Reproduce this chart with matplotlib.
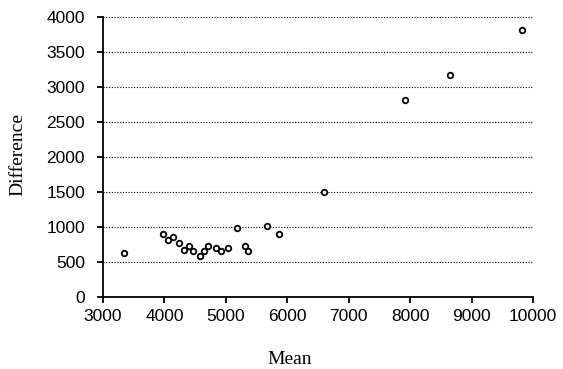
import matplotlib
matplotlib.use('Agg')
import matplotlib.pyplot as plt

plt.rcParams['font.family'] = ['Liberation Sans', 'DejaVu Sans']

# Mean vs. difference for each pair of measurements
mean_vals = [3337, 3980, 4063, 4140, 4233, 4314, 4401, 4466, 4585, 4651,
             4716, 4842, 4928, 5037, 5173, 5310, 5352, 5673, 5857, 6599,
             7909, 8652, 9824]
diff_vals = [626, 897, 803, 846, 769, 660, 717, 654, 579, 654,
             717, 693, 654, 693, 979, 726, 654, 1011, 897, 1489,
             2807, 3164, 3803]

x_ticks = [3000, 4000, 5000, 6000, 7000, 8000, 9000, 10000]
y_ticks = [0, 500, 1000, 1500, 2000, 2500, 3000, 3500, 4000]

fig = plt.figure(figsize=(5.63, 3.69), dpi=100)
ax = fig.add_axes([0.183, 0.196, 0.764, 0.759])

# dotted horizontal guides, skipping the zero line
for y in y_ticks[1:]:
    ax.axhline(y, color='black', linestyle=(0, (1, 1.5)), linewidth=0.8, zorder=1)

ax.plot(mean_vals, diff_vals, linestyle='none', marker='o', markersize=4.0,
        markerfacecolor='white', markeredgecolor='black', markeredgewidth=1.3, zorder=3)

ax.set_xlim(3000, 10000)
ax.set_ylim(0, 4000)
ax.set_xticks(x_ticks)
ax.set_yticks(y_ticks)

for side in ['top', 'right']:
    ax.spines[side].set_visible(False)
for side in ['left', 'bottom']:
    ax.spines[side].set_linewidth(1.3)

ax.tick_params(direction='out', length=4, width=1.3, labelsize=12.5)
ax.tick_params(axis='x', pad=5)
ax.tick_params(axis='y', pad=9)

ax.set_xlabel('Mean', family='Liberation Serif', fontsize=14, va='center')
ax.set_ylabel('Difference', family='Liberation Serif', fontsize=14, va='center')
ax.xaxis.set_label_coords(0.435, -0.224)
ax.yaxis.set_label_coords(-0.198, 0.508)

fig.savefig('out.png', dpi=100)
